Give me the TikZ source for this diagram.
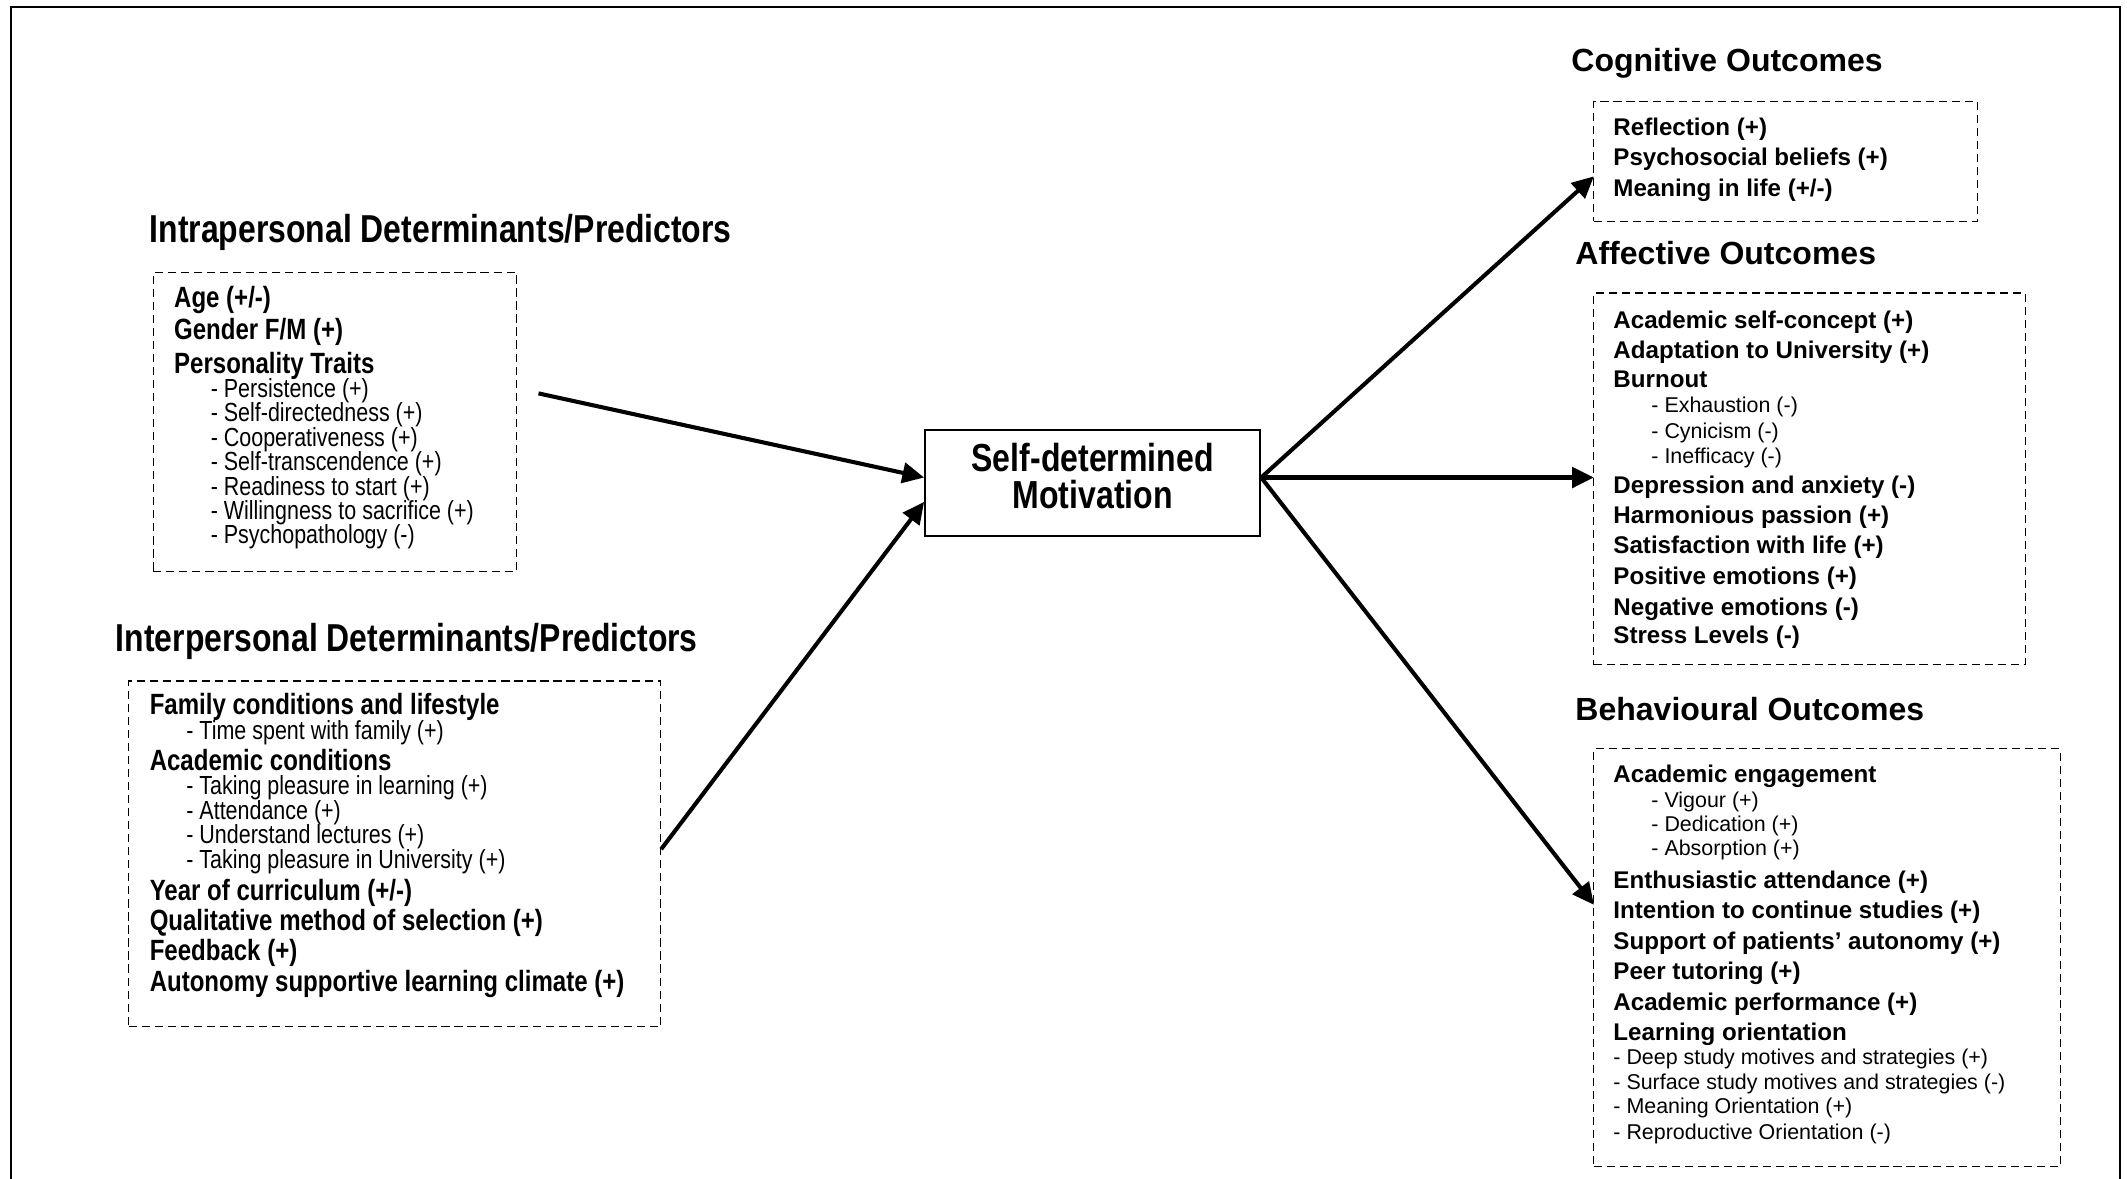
\documentclass[tikz,border=0pt]{standalone}
\usepackage{fontspec}
\setmainfont{Liberation Sans}
\newfontfamily\narrowfont[FakeStretch=0.82]{Liberation Sans}
\usetikzlibrary{arrows.meta,fit}

\tikzset{
  txt/.style={anchor=base west, inner sep=0pt},
  rhead/.style={txt, font=\fontsize{11.8}{14}\selectfont\bfseries},
  ritem/.style={txt, font=\fontsize{8.9}{10.7}\selectfont\bfseries},
  rsub/.style={txt, font=\fontsize{7.9}{9.5}\selectfont},
  lhead/.style={txt, font=\narrowfont\fontsize{14.35}{17}\selectfont\bfseries},
  litem/.style={txt, font=\narrowfont\fontsize{10.8}{13}\selectfont\bfseries},
  lsub/.style={txt, font=\narrowfont\fontsize{9.65}{11.6}\selectfont},
  group/.style={draw, dash pattern=on 3pt off 1.8pt, line width=0.4pt, inner sep=0pt},
  link/.style={line width=1.5pt, -{Triangle[length=8pt,width=7.5pt]}},
}

\begin{document}
\begin{tikzpicture}[x=0.5pt, y=-0.5pt]
\useasboundingbox (0,0) rectangle (1568,869);
% outer frame
\draw[line width=0.6pt] (8,5) rectangle (1563,880);

% ---------- group frames ----------
\node[group, fit={(113,201) (381,421)}] (intra) {};
\node[group, fit={(95,502) (487,757)}] (inter) {};
\node[group, fit={(1175,75) (1458,163)}] (cog) {};
\node[group, fit={(1175,216) (1493,490)}] (aff) {};
\node[group, fit={(1175,552) (1519,860)}] (beh) {};

% ---------- central construct ----------
\node[draw, line width=0.75pt, minimum width=123.5pt, minimum height=39pt,
      inner sep=0pt] (sdm) at (805.5,356) {};
\node[align=center, inner sep=0pt,
      font=\narrowfont\fontsize{14.4}{13.5}\selectfont\bfseries] (sdmText)
      at ([yshift=2.5pt]sdm.center) {Self-determined\\Motivation};

\begin{scope}[yshift=-1pt]
% ---------- intrapersonal determinants ----------
\node[lhead] (intraT) at (110,177) {Intrapersonal Determinants/Predictors};
\node[litem] (i1) at (128,225) {Age (+/-)};
\node[litem] (i2) at (128,248) {Gender F/M (+)};
\node[litem] (i3) at (128,273) {Personality Traits};
\node[lsub] (i4) at (155,291) {- Persistence (+)};
\node[lsub] (i5) at (155,309) {- Self-directedness (+)};
\node[lsub] (i6) at (155,327) {- Cooperativeness (+)};
\node[lsub] (i7) at (155,345) {- Self-transcendence (+)};
\node[lsub] (i8) at (155,363) {- Readiness to start (+)};
\node[lsub] (i9) at (155,381) {- Willingness to sacrifice (+)};
\node[lsub] (i10) at (155,399) {- Psychopathology (-)};

% ---------- interpersonal determinants ----------
\node[lhead] (interT) at (85,478) {Interpersonal Determinants/Predictors};
\node[litem] (e1) at (110,525) {Family conditions and lifestyle};
\node[lsub] (e2) at (137,543) {- Time spent with family (+)};
\node[litem] (e3) at (110,566) {Academic conditions};
\node[lsub] (e4) at (137,584) {- Taking pleasure in learning (+)};
\node[lsub] (e5) at (137,602) {- Attendance (+)};
\node[lsub] (e6) at (137,620) {- Understand lectures (+)};
\node[lsub] (e7) at (137,638) {- Taking pleasure in University (+)};
\node[litem] (e8) at (110,662) {Year of curriculum (+/-)};
\node[litem] (e9) at (110,684) {Qualitative method of selection (+)};
\node[litem] (e10) at (110,706) {Feedback (+)};
\node[litem] (e11) at (110,729) {Autonomy supportive learning climate (+)};

% ---------- cognitive outcomes ----------
\node[rhead] (cogT) at (1158,51) {Cognitive Outcomes};
\node[ritem] (c1) at (1189,98) {Reflection (+)};
\node[ritem] (c2) at (1189,120) {Psychosocial beliefs (+)};
\node[ritem] (c3) at (1189,143) {Meaning in life (+/-)};

% ---------- affective outcomes ----------
\node[rhead] (affT) at (1161,193) {Affective Outcomes};
\node[ritem] (a1) at (1189,240) {Academic self-concept (+)};
\node[ritem] (a2) at (1189,262) {Adaptation to University (+)};
\node[ritem] (a3) at (1189,284) {Burnout};
\node[rsub] (a4) at (1217,302) {- Exhaustion (-)};
\node[rsub] (a5) at (1217,321) {- Cynicism (-)};
\node[rsub] (a6) at (1217,340) {- Inefficacy (-)};
\node[ritem] (a7) at (1189,362) {Depression and anxiety (-)};
\node[ritem] (a8) at (1189,384) {Harmonious passion (+)};
\node[ritem] (a9) at (1189,406) {Satisfaction with life (+)};
\node[ritem] (a10) at (1189,429) {Positive emotions (+)};
\node[ritem] (a11) at (1189,452) {Negative emotions (-)};
\node[ritem] (a12) at (1189,472) {Stress Levels (-)};

% ---------- behavioural outcomes ----------
\node[rhead] (behT) at (1161,529) {Behavioural Outcomes};
\node[ritem] (b1) at (1189,575) {Academic engagement};
\node[rsub] (b2) at (1217,593) {- Vigour (+)};
\node[rsub] (b3) at (1217,611) {- Dedication (+)};
\node[rsub] (b4) at (1217,629) {- Absorption (+)};
\node[ritem] (b5) at (1189,653) {Enthusiastic attendance (+)};
\node[ritem] (b6) at (1189,675) {Intention to continue studies (+)};
\node[ritem] (b7) at (1189,698) {Support of patients’ autonomy (+)};
\node[ritem] (b8) at (1189,720) {Peer tutoring (+)};
\node[ritem] (b9) at (1189,743) {Academic performance (+)};
\node[ritem] (b10) at (1189,765) {Learning orientation};
\node[rsub] (b11) at (1189,783) {- Deep study motives and strategies (+)};
\node[rsub] (b12) at (1189,801) {- Surface study motives and strategies (-)};
\node[rsub] (b13) at (1189,819) {- Meaning Orientation (+)};
\node[rsub] (b14) at (1189,838) {- Reproductive Orientation (-)};
\end{scope}

% ---------- connectors ----------
\coordinate (intraOut) at (397,290);
\coordinate (cogIn) at (1175,130);
\coordinate (affIn) at (1175,352);
\coordinate (behIn) at (1175,667);
\coordinate (sdmOut) at ([yshift=2pt]sdm.east);
\draw[link] (intraOut) -- ([yshift=2pt]sdm.west);
\draw[link] (inter.east |- 0,626) -- ([yshift=-7pt]sdm.west);
\draw[link] (sdmOut) -- (cogIn);
\draw[link] (sdmOut) -- (affIn);
\draw[link] (sdmOut) -- (behIn);
\end{tikzpicture}
\end{document}
